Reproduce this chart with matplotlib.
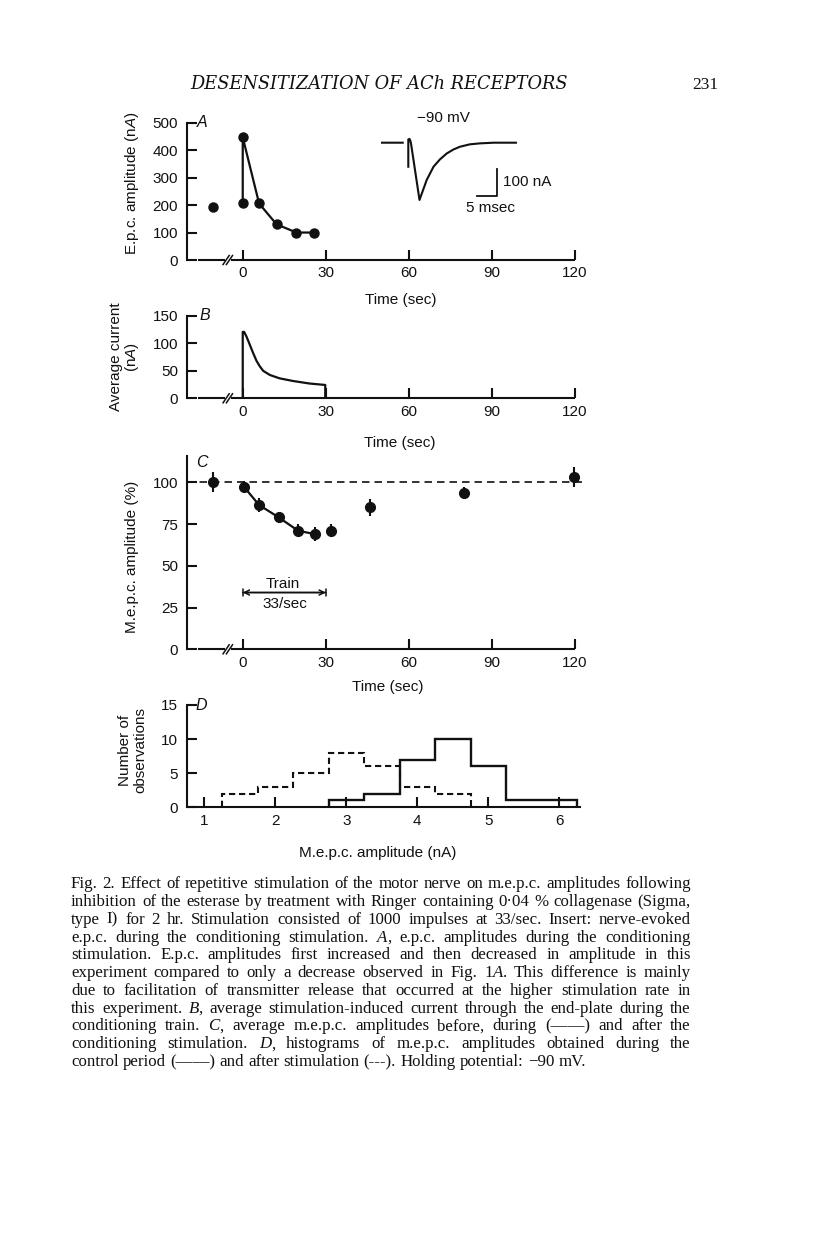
import re
import numpy as np
import matplotlib
matplotlib.use('Agg')
import matplotlib.pyplot as plt

# ---------------- data ----------------
# A: e.p.c. amplitude (nA) vs time (sec)
epc_pre_t = [-10.8]
epc_pre = [194]
epc_t = [0, 0, 5.9, 12.2, 19.4, 25.7]
epc_amp = [206, 447, 206, 130, 100, 100]

# insert: nerve-evoked e.p.c. (msec, nA)
trace_t = [0, 5.5, np.nan, 6.9, 6.9, 7.2, 7.4, 7.6, 9.7, 11.5, 13.2, 14.8,
           16.5, 18.2, 19.8, 22.3, 24.8, 28.2, 33.8]
trace_i = [0, 0, np.nan, -89, 12, 14, 8, -5, -212, -138, -89, -62,
           -40, -25, -15, -6, -2.5, 0, 0]

# B: average current (nA)
avg_t = [0, 0, 0.5, 1.4, 2.6, 3.8, 5.0, 6.2, 7.4, 9.8, 13.3, 18.1, 24.0, 29.8, 29.8]
avg_i = [0, 121, 121, 112, 97, 82, 68, 58, 50, 42.5, 36.4, 31.6, 27, 24.3, 0]

# C: m.e.p.c. amplitude (%)
mepc_t = [-10.6, 0.6, 5.9, 13, 20, 26, 31.7, 46, 80, 119.7]
mepc_pct = [100.4, 97, 86.4, 79, 71, 69, 71, 85, 93.8, 103]
mepc_err = [6, 3.5, 4, 3.5, 4, 4, 4, 5, 3.5, 6]
control_pct = 100
train_start, train_end = 0, 30

# D: histograms of m.e.p.c. amplitude (nA)
ctrl_edges = [2.75, 3.25, 3.75, 4.25, 4.75, 5.25, 5.75, 6.25]
ctrl_counts = [1, 2, 7, 10, 6, 1, 1]
after_edges = [1.25, 1.75, 2.25, 2.75, 3.25, 3.75, 4.25, 4.75]
after_counts = [2, 3, 5, 8, 6, 3, 2]

time_ticks = [0, 30, 60, 90, 120]

# <i>..</i> marks italic letters
caption_lines = [
    "Fig. 2. Effect of repetitive stimulation of the motor nerve on m.e.p.c. amplitudes following",
    "inhibition of the esterase by treatment with Ringer containing 0\u00b704 % collagenase (Sigma,",
    "type I) for 2 hr. Stimulation consisted of 1000 impulses at 33/sec. Insert: nerve-evoked",
    "e.p.c. during the conditioning stimulation. <i>A</i>, e.p.c. amplitudes during the conditioning",
    "stimulation. E.p.c. amplitudes first increased and then decreased in amplitude in this",
    "experiment compared to only a decrease observed in Fig. 1<i>A</i>. This difference is mainly",
    "due to facilitation of transmitter release that occurred at the higher stimulation rate in",
    "this experiment. <i>B</i>, average stimulation-induced current through the end-plate during the",
    "conditioning train. <i>C</i>, average m.e.p.c. amplitudes before, during (\u2014\u2014) and after the",
    "conditioning stimulation. <i>D</i>, histograms of m.e.p.c. amplitudes obtained during the",
    "control period (\u2014\u2014) and after stimulation (---). Holding potential: \u221290 mV.",
]

# ---------------- style ----------------
plt.rcParams['font.family'] = ['Liberation Sans', 'DejaVu Sans']
plt.rcParams['font.size'] = 11
plt.rcParams['mathtext.fontset'] = 'custom'
plt.rcParams['mathtext.rm'] = 'Liberation Sans'
plt.rcParams['mathtext.sf'] = 'Liberation Sans:italic'
k = '#111111'
lw = 1.5

W, H = 816, 1243
fig = plt.figure(figsize=(W / 100, H / 100), dpi=100)


def add_ax(l, t, r, b):
    ax = fig.add_axes([l / W, 1 - b / H, (r - l) / W, (b - t) / H])
    ax._px = (l, t, r, b)
    return ax


def fx(ax, x):
    l, t, r, b = ax._px
    return (x - l) / (r - l)


def fy(ax, y):
    l, t, r, b = ax._px
    return (b - y) / (b - t)


def style(ax):
    for s in ('top', 'right'):
        ax.spines[s].set_visible(False)
    for s in ('left', 'bottom'):
        ax.spines[s].set_linewidth(lw)
        ax.spines[s].set_color(k)
    ax.tick_params(direction='in', length=7, width=lw, colors=k, labelsize=11)
    ax.tick_params(axis='x', pad=4.5)
    ax.tick_params(axis='y', pad=6.3)
    ax.set_facecolor('none')


def broken_xaxis(ax):
    ax.spines['bottom'].set_visible(False)
    tr = ax.get_xaxis_transform()
    ax.plot([-16, -6.4], [0, 0], transform=tr, color=k, lw=lw, clip_on=False,
            solid_capstyle='butt')
    ax.plot([-4.4, 120], [0, 0], transform=tr, color=k, lw=lw, clip_on=False,
            solid_capstyle='butt')
    dy = 4.5 / (ax._px[3] - ax._px[1])
    for xb in (-6.0, -4.8):
        ax.plot([xb - 1.1, xb + 1.1], [-dy, dy], transform=tr, color=k, lw=1.1,
                clip_on=False)


def labels(ax, xl, xc, yl, yx, yy, linespacing=1.2):
    ax.set_xlabel(xl, fontsize=11, color=k)
    ax.xaxis.set_label_coords(fx(ax, xc[0]), fy(ax, xc[1]))
    ax.xaxis.label.set_va('center')
    ax.set_ylabel(yl, fontsize=11, color=k, linespacing=linespacing)
    ax.yaxis.set_label_coords(fx(ax, yx), fy(ax, yy))
    ax.yaxis.label.set_va('center')


def panel_letter(ax, s, x, y):
    ax.text(fx(ax, x), fy(ax, y), s, transform=ax.transAxes, style='italic',
            fontsize=11.5, ha='left', va='center', color=k)


# ---------------- A ----------------
axA = add_ax(186.8, 122.7, 586.1, 260)
style(axA)
axA.set_xlim(-20.2, 124)
axA.set_ylim(0, 500)
axA.set_xticks(time_ticks)
axA.set_yticks([0, 100, 200, 300, 400, 500])
broken_xaxis(axA)
axA.plot(epc_t, epc_amp, '-o', color=k, lw=1.6, ms=6.5, clip_on=False)
axA.plot(epc_pre_t, epc_pre, 'o', color=k, ms=6.5)
labels(axA, 'Time (sec)', (400.7, 300),
       r'E.p.c. amplitude (n$\mathsf{A}$)', 131.7, 183)
panel_letter(axA, 'A', 196.5, 122.7)

# insert trace
axI = add_ax(380.7, 135.95, 524.7, 210.2)
axI.set_xlim(0, 36)
axI.set_ylim(-250, 25)
axI.axis('off')
axI.plot(trace_t, trace_i, color=k, lw=1.5)
axI.plot([24, 29, 29], [-196, -196, -96], color=k, lw=1.3)
axI.text(15.6, 90, '\u221290 mV', ha='center', va='center', fontsize=11,
         color=k, clip_on=False)
axI.text(30.6, -144, '100 nA', ha='left', va='center', fontsize=11,
         color=k, clip_on=False)
axI.text(27.5, -243, '5 msec', ha='center', va='center', fontsize=11,
         color=k, clip_on=False)

# ---------------- B ----------------
axB = add_ax(186.8, 316, 586.1, 398.3)
style(axB)
axB.set_xlim(-20.2, 124)
axB.set_ylim(0, 150)
axB.set_xticks(time_ticks)
axB.set_yticks([0, 50, 100, 150])
broken_xaxis(axB)
axB.plot(avg_t, avg_i, color=k, lw=1.6)
labels(axB, 'Time (sec)', (400, 442.7),
       'Average current\n(n$\\mathsf{A}$)', 125, 356.7, linespacing=1.05)
panel_letter(axB, 'B', 199, 316)

# ---------------- C ----------------
axC = add_ax(186.8, 455.6, 586.1, 649.3)
style(axC)
axC.set_xlim(-20.2, 124)
axC.set_ylim(0, 116)
axC.set_xticks(time_ticks)
axC.set_yticks([0, 25, 50, 75, 100])
broken_xaxis(axC)
axC.hlines(control_pct, -20.2, 123, colors=k, lw=1.2, linestyles=(0, (4.5, 3)))
axC.errorbar(mepc_t, mepc_pct, yerr=mepc_err, fmt='o', color=k, ms=7,
             elinewidth=1.5, capsize=0)
axC.plot(mepc_t[1:6], mepc_pct[1:6], color=k, lw=1.6)
axC.annotate('', xy=(train_end, 34), xytext=(train_start, 34),
             arrowprops=dict(arrowstyle='<->', color=k, lw=1.1,
                             shrinkA=0, shrinkB=0, mutation_scale=9))
axC.annotate('', xy=(train_end, 34), xytext=(train_start, 34),
             arrowprops=dict(arrowstyle='|-|,widthA=0.25,widthB=0.25', color=k,
                             lw=1.1, shrinkA=0, shrinkB=0))
axC.text(14.6, 39.3, 'Train', ha='center', va='center', fontsize=11, color=k)
axC.text(15.3, 27.1, '33/sec', ha='center', va='center', fontsize=11, color=k)
labels(axC, 'Time (sec)', (388, 686.7),
       'M.e.p.c. amplitude (%)', 131.7, 556.7)
panel_letter(axC, 'C', 196.5, 462.7)

# ---------------- D ----------------
axD = add_ax(186.7, 705, 580, 807.3)
style(axD)
axD.set_xlim(0.752, 6.29)
axD.set_ylim(0, 15)
axD.set_xticks([1, 2, 3, 4, 5, 6])
axD.set_yticks([0, 5, 10, 15])
axD.stairs(ctrl_counts, ctrl_edges, color=k, lw=1.7, baseline=0)
axD.stairs(after_counts, after_edges, color=k, lw=1.5, baseline=0,
           linestyle=(0, (3, 1.8)))
labels(axD, 'M.e.p.c. amplitude (nA)', (378, 853),
       'Number of\nobservations', 132.5, 750, linespacing=1.15)
panel_letter(axD, 'D', 196, 705)

# ---------------- page header and caption ----------------
fig.canvas.draw()
r = fig.canvas.get_renderer()

hdr = fig.text(190 / W, 1 - 89 / H, 'DESENSITIZATION OF ACh RECEPTORS',
               family=['DejaVu Serif'], style='italic', fontsize=10,
               va='baseline', color=k)
hw = hdr.get_window_extent(r).width
hdr.set_fontsize(10 * 377 / hw)
fig.text(692.7 / W, 1 - 89 / H, '231', family=['Liberation Serif', 'DejaVu Serif'],
         fontsize=12.5, va='baseline', ha='left', color=k)

cap_left, cap_right = 71, 691
cap_base0, cap_step = 888.3, 17.77
cap_fam = ['Liberation Serif', 'DejaVu Serif']


def pieces(word):
    # split a word into (text, italic) pieces
    out = []
    for part in re.split(r'(<i>.*?</i>)', word):
        if not part:
            continue
        if part.startswith('<i>'):
            out.append((part[3:-4], True))
        else:
            out.append((part, False))
    return out


# size the caption so that the longest line just fills the column
probe = fig.text(0, 0, '', family=cap_fam, fontsize=10)
widest = 0
for line in caption_lines[:-1]:
    probe.set_text(re.sub(r'</?i>', '', line))
    widest = max(widest, probe.get_window_extent(r).width)
probe.remove()
cap_size = 10 * (cap_right - cap_left) / widest * 0.985

cap_kw = dict(family=cap_fam, fontsize=cap_size, va='baseline', ha='left', color=k)
for i, line in enumerate(caption_lines):
    y = 1 - (cap_base0 + i * cap_step) / H
    words = line.split(' ')
    wtexts = []
    for w in words:
        ts = [fig.text(0, y, s, style='italic' if it else 'normal', **cap_kw)
              for s, it in pieces(w)]
        wtexts.append((ts, [t.get_window_extent(r).width for t in ts]))
    total = sum(sum(ws) for ts, ws in wtexts)
    if i == len(caption_lines) - 1:
        gap = 0.25 * cap_size * 100 / 72
    else:
        gap = (cap_right - cap_left - total) / (len(words) - 1)
    x = cap_left
    for ts, ws in wtexts:
        for t, w in zip(ts, ws):
            t.set_x(x / W)
            x += w
        x += gap

fig.savefig('out.png', dpi=100, facecolor='white')
